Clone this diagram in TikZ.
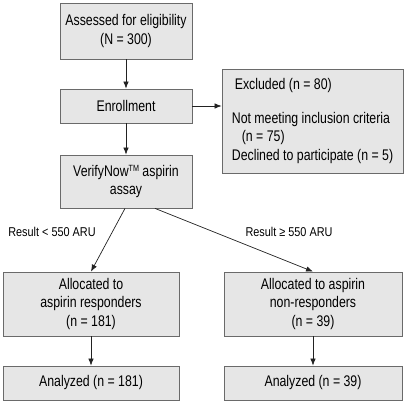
\documentclass[tikz,border=0pt]{standalone}
\usepackage{fontspec}
\setmainfont[FakeStretch=0.8]{Liberation Sans}
\newfontfamily\lblfont[FakeStretch=0.85]{Liberation Sans}
\usetikzlibrary{arrows.meta}
\definecolor{boxfill}{HTML}{E6E6E6}
\definecolor{boxline}{HTML}{6A6A6A}
\definecolor{arrline}{HTML}{222222}
\begin{document}
\begin{tikzpicture}[x=1pt,y=-1pt,
  box/.style={draw=boxline, fill=boxfill, line width=0.8pt, inner sep=0pt,
    align=center, font=\fontsize{15.4}{18.5}\selectfont},
  arr/.style={draw=arrline, -{Latex[length=7pt,width=5.5pt]}, line width=0.7pt},
  lbl/.style={font=\lblfont\fontsize{12.8}{15}\selectfont, inner sep=0pt}]
\useasboundingbox (0,0) rectangle (407,404);

\node[box, minimum width=132pt, minimum height=56pt] (a) at (126,31)
  {Assessed for eligibility\\(N = 300)};
\node[box, minimum width=132pt, minimum height=34pt] (b) at (126,106)
  {Enrollment};
\node[box, minimum width=181pt, minimum height=104pt, align=left] (c) at (312.5,121)
  {\hspace{3pt}Excluded (n = 80)\\[15pt]Not meeting inclusion criteria\\\hspace{10pt}(n = 75)\\Declined to participate (n = 5)};
\node[box, minimum width=132pt, minimum height=53pt] (d) at (126,181.5)
  {VerifyNow{\fontsize{9}{9}\selectfont\raisebox{5pt}{TM}} aspirin\\assay};
\node[box, minimum width=176pt, minimum height=64pt] (e) at (91,304)
  {Allocated to\\aspirin responders\\(n = 181)};
\node[box, minimum width=178pt, minimum height=64pt] (f) at (313,304)
  {Allocated to aspirin\\non-responders\\(n = 39)};
\node[box, minimum width=176pt, minimum height=34pt] (g) at (91,383)
  {Analyzed (n = 181)};
\node[box, minimum width=178pt, minimum height=34pt] (h) at (313,383)
  {Analyzed (n = 39)};

\node[lbl] (l1) at (52,232) {Result < 550 ARU};
\node[lbl] (l2) at (289,232) {Result ≥ 550 ARU};

\draw[arr] (a.south) -- (b.north);
\draw[arr] (b.east) -- (b.east -| c.west);
\draw[arr] (b.south) -- (d.north);
\draw[arr] ([xshift=-1pt]d.south) -- (e.north);
\draw[arr] ([xshift=29pt]d.south) -- (f.north);
\draw[arr] (e.south) -- (g.north);
\draw[arr] (f.south) -- (h.north);
\end{tikzpicture}
\end{document}
